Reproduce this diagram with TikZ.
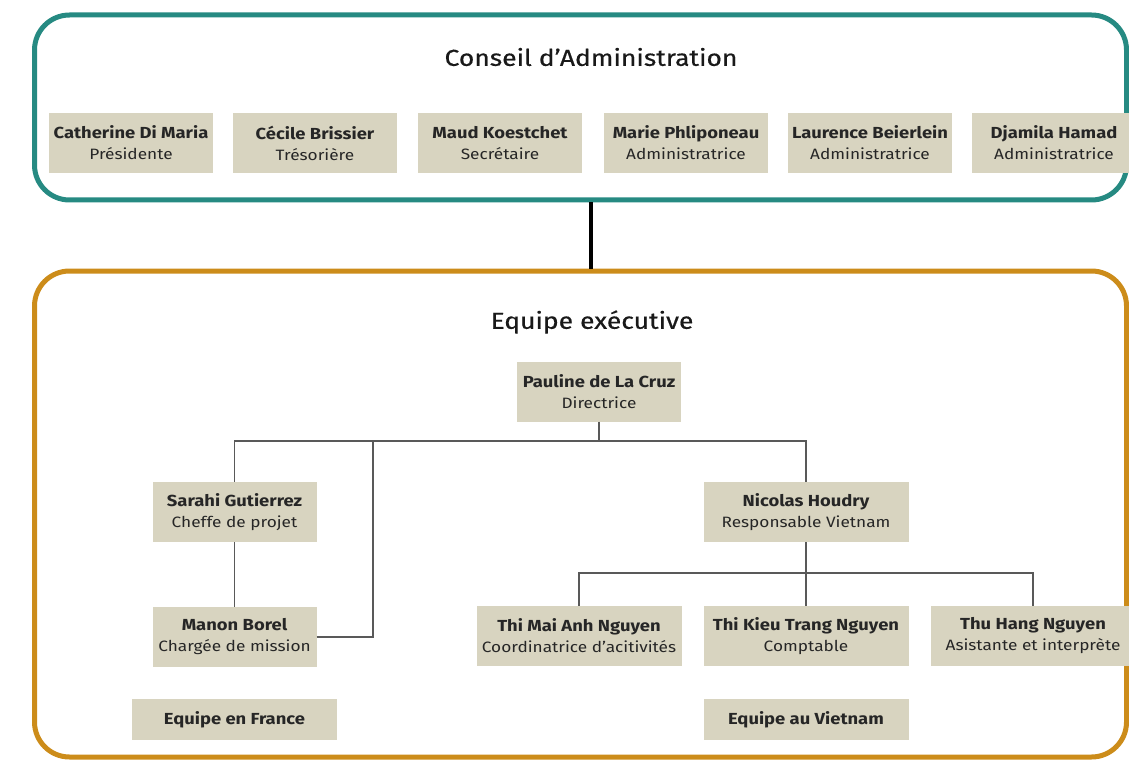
\documentclass[tikz,border=0pt]{standalone}
\usepackage{fontspec}
\setmainfont[FakeStretch=1.15]{Fira Sans}
\newfontfamily\headfont[FakeStretch=1.15,FakeBold=0.5]{Fira Sans}
\definecolor{boardline}{RGB}{38,138,130}
\definecolor{teamline}{RGB}{204,140,26}
\definecolor{namebox}{RGB}{216,212,192}
\newcommand{\who}[2]{{\fontsize{16}{21}\selectfont\bfseries #1}\\#2}
\tikzset{
  member/.style={fill=namebox, text=black!85, align=center, inner sep=0pt,
    minimum height=60pt, font=\fontsize{15}{21}\selectfont},
  board/.style={member, minimum width=164pt},
  staff/.style={member, minimum width=205pt},
  team/.style={staff, minimum height=41pt},
  frame/.style={draw, line width=5pt, rounded corners=35pt, inner sep=0pt,
    minimum width=1092pt},
  heading/.style={font=\headfont\fontsize{23}{27}\selectfont, text=black!90},
  link/.style={draw=black!65, line width=1.3pt},
}

\begin{document}
\begin{tikzpicture}[x=1pt, y=-1pt]
	\useasboundingbox (0,0) rectangle (1129,762);
	% frames
	\node[frame, draw=boardline, minimum height=185pt] (conseil) at (580.5,107.5) {};
	\node[frame, draw=teamline, minimum height=486pt] (equipe) at (580.5,514) {};
	\node[heading] (conseiltitle) at (591,57) {Conseil d’Administration};
	\node[heading] (equipetitle) at (592,322) {Equipe exécutive};

	% conseil d'administration
	\node[board] (catherine) at (131,143) {\who{Catherine Di Maria}{Présidente}};
	\node[board] (cecile) at (315,143) {\who{Cécile Brissier}{Trésorière}};
	\node[board] (maud) at (500,143) {\who{Maud Koestchet}{Secrétaire}};
	\node[board] (marie) at (686,143) {\who{Marie Phliponeau}{Administratrice}};
	\node[board] (laurence) at (870,143) {\who{Laurence Beierlein}{Administratrice}};
	\node[board] (djamila) at (1054,143) {\who{Djamila Hamad}{Administratrice}};

	% equipe executive
	\node[board] (pauline) at (599,391.5) {\who{Pauline de La Cruz}{Directrice}};
	\node[board] (sarahi) at (234.5,512) {\who{Sarahi Gutierrez}{Cheffe de projet}};
	\node[board] (manon) at (234.5,637) {\who{Manon Borel}{Chargée de mission}};
	\node[staff] (nicolas) at (806,512) {\who{Nicolas Houdry}{Responsable Vietnam}};
	\node[staff] (thimai) at (579,636) {\who{Thi Mai Anh Nguyen}{Coordinatrice d’acitivités}};
	\node[staff] (thikieu) at (806,636) {\who{Thi Kieu Trang Nguyen}{Comptable}};
	\node[staff] (thuhang) at (1033,636) {\who{Thu Hang Nguyen}{Asistante et interprète}};
	\node[team] (france) at (234.5,719.5) {\fontsize{16}{21}\selectfont\bfseries Equipe en France};
	\node[team] (vietnam) at (806,719.5) {\fontsize{16}{21}\selectfont\bfseries Equipe au Vietnam};

	% liens
	\draw[line width=4pt] (conseiltitle |- conseil.south) -- (conseiltitle |- equipe.north);
	\coordinate (direction) at (599,441);
	\coordinate (mission) at (373,441);
	\coordinate (vietnambus) at (806,573);
	\draw[link] (pauline) -- (direction);
	\draw[link] (sarahi.north) |- (direction) -| (nicolas.north);
	\draw[link] (sarahi) -- (manon);
	\draw[link] (manon.east) -| (mission);
	\draw[link] (nicolas) -- (vietnambus);
	\draw[link] (thimai.north) |- (vietnambus) -| (thuhang.north);
	\draw[link] (vietnambus) -- (thikieu);
\end{tikzpicture}
\end{document}
